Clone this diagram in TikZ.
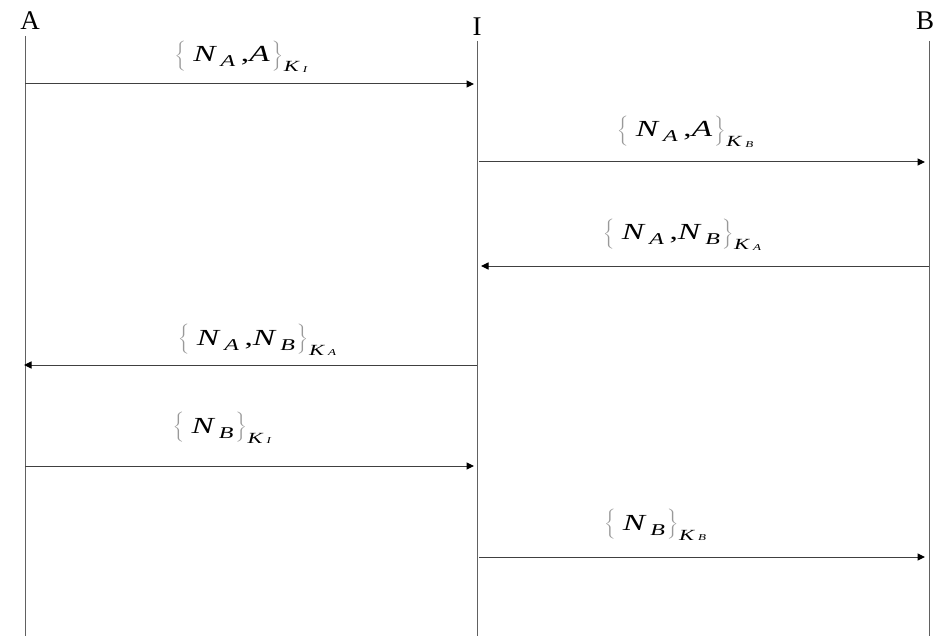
\documentclass[tikz,border=0pt]{standalone}
\usepackage{fontspec}
\setmainfont{Liberation Serif}
\usetikzlibrary{arrows.meta}
% pieces of a message label
\newcommand{\lb}{\textcolor{black!40}{$\left\{\vrule height 19pt depth 10pt width 0pt\right.$}}
\newcommand{\rb}{\textcolor{black!40}{$\left.\vrule height 19pt depth 10pt width 0pt\right\}$}}
\newcommand{\nsub}[1]{\textit{N}\hspace{2.5pt}\raisebox{-5pt}{\fontsize{16.5}{16}\selectfont\textit{#1}}}
\newcommand{\key}[1]{\hspace{0.5pt}\raisebox{-10pt}{\fontsize{15.5}{16}\selectfont\textit{K}\hspace{2pt}\raisebox{-0.5pt}{\fontsize{9}{9}\selectfont\textit{#1}}}}
\newcommand{\msg}[1]{\scalebox{1.45}[1]{#1}}
\begin{document}
\begin{tikzpicture}[x=1pt,y=-1pt,
  party/.style={inner sep=0pt,font=\fontsize{27}{30}\selectfont},
  lifeline/.style={draw=black!62,line width=1pt},
  msgline/.style={draw=black!75,line width=1pt,-{Triangle[length=7.5pt,width=7pt,color=black,fill=black]}},
  msglabel/.style={inner sep=0pt,anchor=base,font=\fontsize{23}{28}\selectfont}]
\useasboundingbox (0,0) rectangle (944,636);
% parties
\node[party] (A) at (30,21) {A};
\node[party] (I) at (477,27) {I};
\node[party] (B) at (925,21) {B};
% lifeline ends
\coordinate (At) at (25,36);  \coordinate (Ab) at (25,636);
\coordinate (It) at (477,41); \coordinate (Ib) at (477,636);
\coordinate (Bt) at (929,41); \coordinate (Bb) at (929,636);
\draw[lifeline] (At) -- (Ab);
\draw[lifeline] (It) -- (Ib);
\draw[lifeline] (Bt) -- (Bb);
% message end points
\coordinate (m1s) at (25,84);   \coordinate (m1e) at (474,84);
\coordinate (m2s) at (479,162); \coordinate (m2e) at (925,162);
\coordinate (m3s) at (929,266); \coordinate (m3e) at (481,266);
\coordinate (m4s) at (477,365); \coordinate (m4e) at (24,365);
\coordinate (m5s) at (25,466);  \coordinate (m5e) at (474,466);
\coordinate (m6s) at (479,557); \coordinate (m6e) at (925,557);
\draw[msgline] (m1s) -- (m1e);
\draw[msgline] (m2s) -- (m2e);
\draw[msgline] (m3s) -- (m3e);
\draw[msgline] (m4s) -- (m4e);
\draw[msgline] (m5s) -- (m5e);
\draw[msgline] (m6s) -- (m6e);
% labels
\node[msglabel] (l1) at (241,62)  {\msg{\lb\,\nsub{A}\,,\textit{A}\rb\key{I}}};
\node[msglabel] (l2) at (685,137) {\msg{\lb\,\nsub{A}\,,\textit{A}\rb\key{B}}};
\node[msglabel] (l3) at (682,240) {\msg{\lb\,\nsub{A}\,,\nsub{B}\rb\key{A}}};
\node[msglabel] (l4) at (257,345) {\msg{\lb\,\nsub{A}\,,\nsub{B}\rb\key{A}}};
\node[msglabel] (l5) at (222,433) {\msg{\lb\,\nsub{B}\rb\key{I}}};
\node[msglabel] (l6) at (655,530) {\msg{\lb\,\nsub{B}\rb\key{B}}};
\end{tikzpicture}
\end{document}
